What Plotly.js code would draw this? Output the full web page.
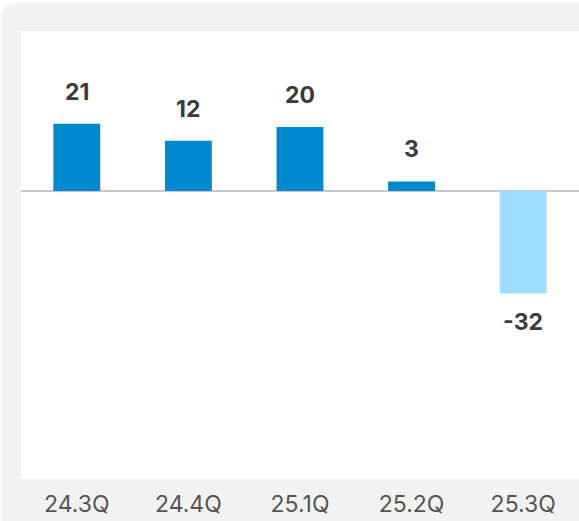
<!DOCTYPE html>
<html>
<head>
<meta charset="utf-8">
<script src="https://cdn.plot.ly/plotly-3.0.1.min.js"></script>
<style>
  html, body { margin: 0; padding: 0; background: #ffffff; width: 579px; height: 521px; overflow: hidden; }
  #card { position: absolute; left: 2px; top: 3px; width: 577px; height: 518px; background: #f2f2f2; border-top-left-radius: 12px; overflow: hidden; }
  #chart { width: 577px; height: 518px; }
</style>
</head>
<body>
<div id="card"><div id="chart"></div></div>
<script>
const categories = ["24.3Q", "24.4Q", "25.1Q", "25.2Q", "25.3Q"];
// bar heights as drawn in the reference (the 24.4Q bar is drawn taller than its label)
const barValues = [21, 15.7, 20, 3, -32];
const labelTexts = ["21", "12", "20", "3", "-32"];

const posColor = "#0089cf";
const negColor = "#9ddeff";

const trace = {
  type: "bar",
  x: categories,
  y: barValues,
  width: 0.42,
  marker: { color: barValues.map(v => v >= 0 ? posColor : negColor) },
  hoverinfo: "skip"
};

const annotations = categories.map((c, i) => ({
  x: c,
  y: barValues[i],
  xref: "x",
  yref: "y",
  text: labelTexts[i],
  showarrow: false,
  yanchor: barValues[i] >= 0 ? "bottom" : "top",
  yshift: barValues[i] >= 0 ? 16 : -13,
  font: { family: "Inter, 'Noto Sans', sans-serif", size: 23, color: "#3a3a3a", weight: 700 }
}));

const layout = {
  width: 577,
  height: 518,
  margin: { l: 19, r: 0, t: 28, b: 42 },
  paper_bgcolor: "rgba(0,0,0,0)",
  plot_bgcolor: "#ffffff",
  showlegend: false,
  xaxis: {
    type: "category",
    showgrid: false,
    zeroline: false,
    showline: false,
    ticks: "",
    ticklabelstandoff: 9,
    tickfont: { family: "Inter, 'Noto Sans', sans-serif", size: 23, color: "#555555" },
    fixedrange: true
  },
  yaxis: {
    range: [-90, 50],
    showgrid: false,
    showticklabels: false,
    ticks: "",
    zeroline: true,
    zerolinecolor: "#c8c8c8",
    zerolinewidth: 2,
    layer: "above traces",
    showline: false,
    fixedrange: true
  },
  annotations: annotations
};

Plotly.newPlot("chart", [trace], layout, { displayModeBar: false, staticPlot: true });
</script>
</body>
</html>
